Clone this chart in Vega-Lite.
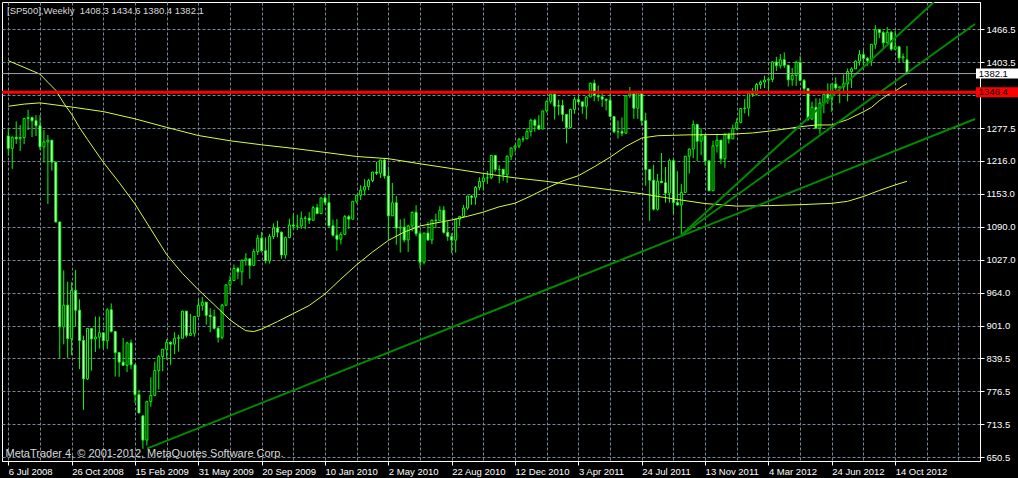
{
  "$schema": "https://vega.github.io/schema/vega-lite/v6.json",
  "width": 978,
  "height": 459,
  "autosize": "none",
  "padding": {"left": 2, "top": 2, "right": 38, "bottom": 17},
  "background": "#000000",
  "view": {"fill": "#000000", "stroke": "#ffffff", "strokeWidth": 1},
  "title": {"text": "[SP500],Weekly\u00a0 1408.3 1434.6 1380.4 1382.1", "anchor": "start", "frame": "group", "offset": -12, "dx": 5, "dy": 11, "color": "#d8d8d8", "font": "Liberation Sans", "fontSize": 9.5, "fontWeight": "normal", "baseline": "bottom"},
  "datasets": {
    "c": [
      {"d":"2008-06-29","o":1262.9,"h":1277.6,"l":1225.4,"c":1239.5},
      {"d":"2008-07-06","o":1239.5,"h":1262.3,"l":1200.4,"c":1260.7},
      {"d":"2008-07-13","o":1260.7,"h":1291,"l":1248,"c":1257.8},
      {"d":"2008-07-20","o":1257.8,"h":1284,"l":1234.4,"c":1260.3},
      {"d":"2008-07-27","o":1260.3,"h":1297.9,"l":1247.5,"c":1296.3},
      {"d":"2008-08-03","o":1296.3,"h":1313.2,"l":1274.5,"c":1298.2},
      {"d":"2008-08-10","o":1298.2,"h":1300.2,"l":1261,"c":1292.2},
      {"d":"2008-08-17","o":1292.2,"h":1303,"l":1263,"c":1282.8},
      {"d":"2008-08-24","o":1282.8,"h":1303,"l":1236.8,"c":1242.3},
      {"d":"2008-08-31","o":1242.3,"h":1274.4,"l":1212.6,"c":1251.7},
      {"d":"2008-09-07","o":1251.7,"h":1265.1,"l":1133.5,"c":1255.1},
      {"d":"2008-09-14","o":1255.1,"h":1255.1,"l":1197,"c":1213.3},
      {"d":"2008-09-21","o":1213.3,"h":1213.3,"l":1098.3,"c":1099.2},
      {"d":"2008-09-28","o":1099.2,"h":1099.2,"l":839.8,"c":899.2},
      {"d":"2008-10-05","o":899.2,"h":1006.9,"l":865.8,"c":940.6},
      {"d":"2008-10-12","o":940.6,"h":985.4,"l":840,"c":876.8},
      {"d":"2008-10-19","o":876.8,"h":984.4,"l":845.3,"c":968.8},
      {"d":"2008-10-26","o":968.8,"h":1007.5,"l":899.7,"c":931},
      {"d":"2008-11-02","o":931,"h":951.7,"l":818.7,"c":873.3},
      {"d":"2008-11-09","o":873.3,"h":882.3,"l":741,"c":800},
      {"d":"2008-11-16","o":800,"h":896.3,"l":798,"c":896.2},
      {"d":"2008-11-23","o":896.2,"h":896.2,"l":815.7,"c":876.1},
      {"d":"2008-11-30","o":876.1,"h":918.9,"l":851.3,"c":879.7},
      {"d":"2008-12-07","o":879.7,"h":918.9,"l":857.7,"c":887.9},
      {"d":"2008-12-14","o":887.9,"h":887.9,"l":857,"c":872.8},
      {"d":"2008-12-21","o":872.8,"h":934.7,"l":857,"c":931.8},
      {"d":"2008-12-28","o":931.8,"h":943.9,"l":888.3,"c":890.4},
      {"d":"2009-01-04","o":890.4,"h":890.4,"l":804.5,"c":850.1},
      {"d":"2009-01-11","o":850.1,"h":850.1,"l":804,"c":832},
      {"d":"2009-01-18","o":832,"h":877.9,"l":825,"c":825.9},
      {"d":"2009-01-25","o":825.9,"h":870.8,"l":812.9,"c":868.6},
      {"d":"2009-02-01","o":868.6,"h":875,"l":818.4,"c":826.8},
      {"d":"2009-02-08","o":826.8,"h":826.8,"l":754.3,"c":770},
      {"d":"2009-02-15","o":770,"h":779.4,"l":734.5,"c":735.1},
      {"d":"2009-02-22","o":729.6,"h":729.6,"l":666.8,"c":683.4},
      {"d":"2009-03-01","o":683.4,"h":758.3,"l":672.9,"c":756.6},
      {"d":"2009-03-08","o":756.6,"h":803,"l":747,"c":768.5},
      {"d":"2009-03-15","o":768.5,"h":832.9,"l":767,"c":815.9},
      {"d":"2009-03-22","o":815.9,"h":845.6,"l":779.8,"c":842.5},
      {"d":"2009-03-29","o":842.5,"h":856.6,"l":814.5,"c":856.6},
      {"d":"2009-04-05","o":856.6,"h":875.6,"l":836.9,"c":869.6},
      {"d":"2009-04-12","o":869.6,"h":871.8,"l":826.8,"c":866.2},
      {"d":"2009-04-19","o":866.2,"h":888.7,"l":847.1,"c":877.5},
      {"d":"2009-04-26","o":877.5,"h":884,"l":852,"c":878.5},
      {"d":"2009-05-03","o":877.5,"h":930.2,"l":877.5,"c":929.2},
      {"d":"2009-05-10","o":929.2,"h":929.2,"l":878.9,"c":882.9},
      {"d":"2009-05-17","o":882.9,"h":924,"l":882.9,"c":887},
      {"d":"2009-05-24","o":887,"h":919.1,"l":880.5,"c":919.1},
      {"d":"2009-05-31","o":919.1,"h":951.7,"l":919.1,"c":940.1},
      {"d":"2009-06-07","o":940.1,"h":956.2,"l":930,"c":946.2},
      {"d":"2009-06-14","o":946.2,"h":946.2,"l":903.4,"c":921.2},
      {"d":"2009-06-21","o":921.2,"h":935,"l":888.9,"c":918.9},
      {"d":"2009-06-28","o":918.9,"h":931.9,"l":894,"c":896.4},
      {"d":"2009-07-05","o":896.4,"h":898.7,"l":869.3,"c":879.1},
      {"d":"2009-07-12","o":879.1,"h":943,"l":875.3,"c":940.4},
      {"d":"2009-07-19","o":940.4,"h":979.4,"l":940.4,"c":979.3},
      {"d":"2009-07-26","o":979.3,"h":996.7,"l":963.7,"c":987.5},
      {"d":"2009-08-02","o":987.5,"h":1018,"l":987.5,"c":1010.5},
      {"d":"2009-08-09","o":1010.5,"h":1013.1,"l":990,"c":1004.1},
      {"d":"2009-08-16","o":1004.1,"h":1027.6,"l":978.5,"c":1026.1},
      {"d":"2009-08-23","o":1026.1,"h":1039.5,"l":1016,"c":1028.9},
      {"d":"2009-08-30","o":1028.9,"h":1028.9,"l":991,"c":1016.4},
      {"d":"2009-09-06","o":1016.4,"h":1048.2,"l":1016.4,"c":1042.7},
      {"d":"2009-09-13","o":1042.7,"h":1074.8,"l":1036,"c":1068.3},
      {"d":"2009-09-20","o":1068.3,"h":1080.2,"l":1041.2,"c":1044.4},
      {"d":"2009-09-27","o":1044.4,"h":1069.6,"l":1020.2,"c":1025.2},
      {"d":"2009-10-04","o":1025.2,"h":1076.3,"l":1019.9,"c":1071.5},
      {"d":"2009-10-11","o":1071.5,"h":1096.6,"l":1066.7,"c":1087.7},
      {"d":"2009-10-18","o":1087.7,"h":1101.4,"l":1070,"c":1079.6},
      {"d":"2009-10-25","o":1079.6,"h":1081,"l":1029,"c":1036.2},
      {"d":"2009-11-01","o":1036.2,"h":1071.5,"l":1029.4,"c":1069.3},
      {"d":"2009-11-08","o":1069.3,"h":1105.4,"l":1069.3,"c":1093.5},
      {"d":"2009-11-15","o":1093.5,"h":1113.7,"l":1085.4,"c":1091.4},
      {"d":"2009-11-22","o":1091.4,"h":1112.8,"l":1083.7,"c":1091.5},
      {"d":"2009-11-29","o":1091.5,"h":1119.1,"l":1086,"c":1106},
      {"d":"2009-12-06","o":1106,"h":1110.7,"l":1085.9,"c":1106.4},
      {"d":"2009-12-13","o":1106.4,"h":1117.7,"l":1095.4,"c":1102.5},
      {"d":"2009-12-20","o":1102.5,"h":1129.6,"l":1102.5,"c":1126.5},
      {"d":"2009-12-27","o":1126.5,"h":1133.5,"l":1114.8,"c":1115.1},
      {"d":"2010-01-03","o":1115.1,"h":1145.4,"l":1115.1,"c":1145},
      {"d":"2010-01-10","o":1145,"h":1150.4,"l":1131.4,"c":1136},
      {"d":"2010-01-17","o":1136,"h":1150.5,"l":1090.2,"c":1091.8},
      {"d":"2010-01-24","o":1091.8,"h":1103.7,"l":1071.6,"c":1073.9},
      {"d":"2010-01-31","o":1073.9,"h":1104.7,"l":1044.5,"c":1066.2},
      {"d":"2010-02-07","o":1066.2,"h":1080,"l":1056.5,"c":1075.5},
      {"d":"2010-02-14","o":1075.5,"h":1112.4,"l":1075.5,"c":1109.2},
      {"d":"2010-02-21","o":1109.2,"h":1112.4,"l":1086,"c":1104.5},
      {"d":"2010-02-28","o":1104.5,"h":1139,"l":1104.5,"c":1138.7},
      {"d":"2010-03-07","o":1138.7,"h":1150,"l":1134.7,"c":1150},
      {"d":"2010-03-14","o":1150,"h":1169.2,"l":1141,"c":1159.9},
      {"d":"2010-03-21","o":1159.9,"h":1180.7,"l":1150,"c":1166.6},
      {"d":"2010-03-28","o":1166.6,"h":1181.4,"l":1160,"c":1178.1},
      {"d":"2010-04-04","o":1178.1,"h":1194.7,"l":1175,"c":1194.4},
      {"d":"2010-04-11","o":1194.4,"h":1213.9,"l":1188.6,"c":1192.1},
      {"d":"2010-04-18","o":1192.1,"h":1217.5,"l":1183,"c":1217.3},
      {"d":"2010-04-25","o":1217.3,"h":1219.8,"l":1181.6,"c":1186.7},
      {"d":"2010-05-02","o":1186.7,"h":1205,"l":1065.8,"c":1110.9},
      {"d":"2010-05-09","o":1110.9,"h":1173.6,"l":1110.9,"c":1135.7},
      {"d":"2010-05-16","o":1135.7,"h":1148.7,"l":1055.9,"c":1087.7},
      {"d":"2010-05-23","o":1087.7,"h":1104,"l":1040.8,"c":1089.4},
      {"d":"2010-05-30","o":1089.4,"h":1105.7,"l":1060.5,"c":1064.9},
      {"d":"2010-06-06","o":1064.9,"h":1094,"l":1042.2,"c":1091.6},
      {"d":"2010-06-13","o":1091.6,"h":1119,"l":1081,"c":1117.5},
      {"d":"2010-06-20","o":1117.5,"h":1131.2,"l":1071.9,"c":1076.8},
      {"d":"2010-06-27","o":1076.8,"h":1082.6,"l":1010.9,"c":1022.6},
      {"d":"2010-07-04","o":1022.6,"h":1078.2,"l":1018.4,"c":1078},
      {"d":"2010-07-11","o":1078,"h":1099.1,"l":1063.3,"c":1064.9},
      {"d":"2010-07-18","o":1064.9,"h":1103.7,"l":1056.9,"c":1102.7},
      {"d":"2010-07-25","o":1102.7,"h":1115,"l":1087.3,"c":1101.6},
      {"d":"2010-08-01","o":1101.6,"h":1129.2,"l":1101.6,"c":1121.6},
      {"d":"2010-08-08","o":1121.6,"h":1129.2,"l":1076.6,"c":1079.3},
      {"d":"2010-08-15","o":1079.3,"h":1100.1,"l":1063.2,"c":1071.7},
      {"d":"2010-08-22","o":1071.7,"h":1077.6,"l":1039.7,"c":1064.6},
      {"d":"2010-08-29","o":1064.6,"h":1105.1,"l":1040.9,"c":1104.5},
      {"d":"2010-09-05","o":1104.5,"h":1110.9,"l":1091.2,"c":1109.6},
      {"d":"2010-09-12","o":1109.6,"h":1131.5,"l":1107,"c":1125.6},
      {"d":"2010-09-19","o":1125.6,"h":1148.9,"l":1122.3,"c":1148.7},
      {"d":"2010-09-26","o":1148.7,"h":1150.3,"l":1131.9,"c":1146.2},
      {"d":"2010-10-03","o":1146.2,"h":1167.7,"l":1131.9,"c":1165.2},
      {"d":"2010-10-10","o":1165.2,"h":1184.4,"l":1159.7,"c":1176.2},
      {"d":"2010-10-17","o":1176.2,"h":1189.4,"l":1159.7,"c":1183.1},
      {"d":"2010-10-24","o":1183.1,"h":1196.1,"l":1171.7,"c":1183.3},
      {"d":"2010-10-31","o":1183.3,"h":1227.1,"l":1180.7,"c":1225.9},
      {"d":"2010-11-07","o":1225.9,"h":1227.1,"l":1194.7,"c":1199.2},
      {"d":"2010-11-14","o":1199.2,"h":1207.4,"l":1173,"c":1199.7},
      {"d":"2010-11-21","o":1199.7,"h":1199.7,"l":1177.7,"c":1189.4},
      {"d":"2010-11-28","o":1189.4,"h":1225.6,"l":1173.6,"c":1224.7},
      {"d":"2010-12-05","o":1224.7,"h":1240.4,"l":1217,"c":1240.4},
      {"d":"2010-12-12","o":1240.4,"h":1246.7,"l":1232.9,"c":1243.9},
      {"d":"2010-12-19","o":1243.9,"h":1259.4,"l":1240,"c":1256.8},
      {"d":"2010-12-26","o":1256.8,"h":1262.6,"l":1251.5,"c":1257.6},
      {"d":"2011-01-02","o":1257.6,"h":1278,"l":1257.6,"c":1271.5},
      {"d":"2011-01-09","o":1271.5,"h":1296,"l":1262.2,"c":1293.2},
      {"d":"2011-01-16","o":1293.2,"h":1296.1,"l":1271.3,"c":1283.4},
      {"d":"2011-01-23","o":1283.4,"h":1302.7,"l":1275,"c":1276.3},
      {"d":"2011-01-30","o":1276.3,"h":1311,"l":1276.3,"c":1310.9},
      {"d":"2011-02-06","o":1310.9,"h":1330.8,"l":1307.6,"c":1329.2},
      {"d":"2011-02-13","o":1329.2,"h":1344.1,"l":1324.6,"c":1343},
      {"d":"2011-02-20","o":1343,"h":1343,"l":1294.3,"c":1319.9},
      {"d":"2011-02-27","o":1319.9,"h":1332.3,"l":1302.6,"c":1321.2},
      {"d":"2011-03-06","o":1321.2,"h":1332.3,"l":1291,"c":1304.3},
      {"d":"2011-03-13","o":1304.3,"h":1304.3,"l":1249,"c":1279.2},
      {"d":"2011-03-20","o":1279.2,"h":1315,"l":1279.2,"c":1313.8},
      {"d":"2011-03-27","o":1313.8,"h":1337.8,"l":1305.3,"c":1332.4},
      {"d":"2011-04-03","o":1332.4,"h":1339.5,"l":1322.9,"c":1328.2},
      {"d":"2011-04-10","o":1328.2,"h":1328.2,"l":1305.3,"c":1319.7},
      {"d":"2011-04-17","o":1319.7,"h":1339.5,"l":1294.7,"c":1337.4},
      {"d":"2011-04-24","o":1337.4,"h":1364.6,"l":1337.4,"c":1363.6},
      {"d":"2011-05-01","o":1363.6,"h":1370.6,"l":1329.2,"c":1340.2},
      {"d":"2011-05-08","o":1340.2,"h":1359.4,"l":1329.2,"c":1337.8},
      {"d":"2011-05-15","o":1337.8,"h":1346.8,"l":1318.5,"c":1333.3},
      {"d":"2011-05-22","o":1333.3,"h":1334,"l":1311.8,"c":1331.1},
      {"d":"2011-05-29","o":1331.1,"h":1345.2,"l":1300.2,"c":1300.2},
      {"d":"2011-06-05","o":1300.2,"h":1300.2,"l":1268.5,"c":1271},
      {"d":"2011-06-12","o":1271,"h":1292.5,"l":1258.1,"c":1271.5},
      {"d":"2011-06-19","o":1271.5,"h":1298.6,"l":1262.9,"c":1268.5},
      {"d":"2011-06-26","o":1268.5,"h":1341,"l":1267.2,"c":1339.7},
      {"d":"2011-07-03","o":1339.7,"h":1356.5,"l":1335.6,"c":1343.8},
      {"d":"2011-07-10","o":1343.8,"h":1343.8,"l":1295.9,"c":1316.1},
      {"d":"2011-07-17","o":1316.1,"h":1347,"l":1295.9,"c":1345},
      {"d":"2011-07-24","o":1345,"h":1345,"l":1282.9,"c":1292.3},
      {"d":"2011-07-31","o":1292.3,"h":1307.4,"l":1168.1,"c":1199.4},
      {"d":"2011-08-07","o":1199.4,"h":1199.4,"l":1101.5,"c":1178.8},
      {"d":"2011-08-14","o":1178.8,"h":1208.5,"l":1121.1,"c":1123.5},
      {"d":"2011-08-21","o":1123.5,"h":1190.7,"l":1121.1,"c":1176.8},
      {"d":"2011-08-28","o":1176.8,"h":1230.7,"l":1173.7,"c":1174},
      {"d":"2011-09-04","o":1174,"h":1204,"l":1136,"c":1154.2},
      {"d":"2011-09-11","o":1154.2,"h":1220.1,"l":1136.2,"c":1216},
      {"d":"2011-09-18","o":1216,"h":1220.4,"l":1114.2,"c":1136.4},
      {"d":"2011-09-25","o":1136.4,"h":1195.9,"l":1131.1,"c":1131.4},
      {"d":"2011-10-02","o":1131.4,"h":1171.4,"l":1074.8,"c":1155.5},
      {"d":"2011-10-09","o":1155.5,"h":1224.6,"l":1155.5,"c":1224.6},
      {"d":"2011-10-16","o":1224.6,"h":1239,"l":1191.5,"c":1238.3},
      {"d":"2011-10-23","o":1238.3,"h":1292.7,"l":1221,"c":1285.1},
      {"d":"2011-10-30","o":1285.1,"h":1285.1,"l":1215.4,"c":1253.2},
      {"d":"2011-11-06","o":1253.2,"h":1277.6,"l":1226.6,"c":1263.9},
      {"d":"2011-11-13","o":1263.9,"h":1264.3,"l":1206.7,"c":1215.7},
      {"d":"2011-11-20","o":1215.7,"h":1215.7,"l":1158.7,"c":1158.7},
      {"d":"2011-11-27","o":1158.7,"h":1254.1,"l":1158.7,"c":1244.3},
      {"d":"2011-12-04","o":1244.3,"h":1267.1,"l":1231.5,"c":1255.2},
      {"d":"2011-12-11","o":1255.2,"h":1255.2,"l":1209.5,"c":1219.7},
      {"d":"2011-12-18","o":1219.7,"h":1268.6,"l":1202.4,"c":1265.3},
      {"d":"2011-12-25","o":1265.3,"h":1269.4,"l":1248.6,"c":1257.6},
      {"d":"2012-01-01","o":1257.6,"h":1284.6,"l":1257.6,"c":1277.8},
      {"d":"2012-01-08","o":1277.8,"h":1296.8,"l":1274.5,"c":1289.1},
      {"d":"2012-01-15","o":1289.1,"h":1315.5,"l":1287,"c":1315.4},
      {"d":"2012-01-22","o":1315.4,"h":1333.5,"l":1306.1,"c":1316.3},
      {"d":"2012-01-29","o":1316.3,"h":1345.3,"l":1300.5,"c":1344.9},
      {"d":"2012-02-05","o":1344.9,"h":1354.3,"l":1337.5,"c":1342.6},
      {"d":"2012-02-12","o":1342.6,"h":1364.2,"l":1340.5,"c":1361.2},
      {"d":"2012-02-19","o":1361.2,"h":1368.9,"l":1352.8,"c":1365.7},
      {"d":"2012-02-26","o":1365.7,"h":1378,"l":1354.3,"c":1369.6},
      {"d":"2012-03-04","o":1369.6,"h":1374.8,"l":1340,"c":1370.9},
      {"d":"2012-03-11","o":1370.9,"h":1405.9,"l":1365.7,"c":1404.2},
      {"d":"2012-03-18","o":1404.2,"h":1414,"l":1386.9,"c":1397.1},
      {"d":"2012-03-25","o":1397.1,"h":1419.2,"l":1391.6,"c":1408.5},
      {"d":"2012-04-01","o":1408.5,"h":1422.4,"l":1392.9,"c":1398.1},
      {"d":"2012-04-08","o":1398.1,"h":1398.1,"l":1357.4,"c":1370.3},
      {"d":"2012-04-15","o":1370.3,"h":1392.8,"l":1358.8,"c":1378.5},
      {"d":"2012-04-22","o":1378.5,"h":1406.6,"l":1358.6,"c":1403.4},
      {"d":"2012-04-29","o":1403.4,"h":1415.3,"l":1367,"c":1369.1},
      {"d":"2012-05-06","o":1369.1,"h":1371.9,"l":1343.1,"c":1353.4},
      {"d":"2012-05-13","o":1353.4,"h":1354.6,"l":1291.9,"c":1295.2},
      {"d":"2012-05-20","o":1295.2,"h":1328.5,"l":1295,"c":1317.8},
      {"d":"2012-05-27","o":1317.8,"h":1334.9,"l":1277.8,"c":1278},
      {"d":"2012-06-03","o":1278,"h":1334.9,"l":1266.7,"c":1325.7},
      {"d":"2012-06-10","o":1325.7,"h":1343.3,"l":1306.6,"c":1342.8},
      {"d":"2012-06-17","o":1342.8,"h":1363.5,"l":1324.4,"c":1335},
      {"d":"2012-06-24","o":1335,"h":1362.2,"l":1309.3,"c":1362.2},
      {"d":"2012-07-01","o":1362.2,"h":1374.8,"l":1350.1,"c":1354.7},
      {"d":"2012-07-08","o":1354.7,"h":1356.8,"l":1325.4,"c":1356.8},
      {"d":"2012-07-15","o":1356.8,"h":1380.4,"l":1345.1,"c":1362.7},
      {"d":"2012-07-22","o":1362.7,"h":1391.7,"l":1329.2,"c":1386},
      {"d":"2012-07-29","o":1386,"h":1394.2,"l":1354.6,"c":1391},
      {"d":"2012-08-05","o":1391,"h":1407.1,"l":1391,"c":1405.9},
      {"d":"2012-08-12","o":1405.9,"h":1426.7,"l":1397.4,"c":1418.2},
      {"d":"2012-08-19","o":1418.2,"h":1426.7,"l":1398,"c":1411.1},
      {"d":"2012-08-26","o":1411.1,"h":1413.5,"l":1397,"c":1406.6},
      {"d":"2012-09-02","o":1406.6,"h":1437.9,"l":1396.6,"c":1437.9},
      {"d":"2012-09-09","o":1437.9,"h":1474.5,"l":1429.1,"c":1465.8},
      {"d":"2012-09-16","o":1465.8,"h":1467.1,"l":1449.6,"c":1460.2},
      {"d":"2012-09-23","o":1460.2,"h":1463.6,"l":1430.5,"c":1440.7},
      {"d":"2012-09-30","o":1440.7,"h":1470.9,"l":1439.1,"c":1460.9},
      {"d":"2012-10-07","o":1460.9,"h":1464,"l":1425.5,"c":1428.6},
      {"d":"2012-10-14","o":1428.6,"h":1464,"l":1426.9,"c":1433.2},
      {"d":"2012-10-21","o":1433.2,"h":1435,"l":1403.3,"c":1411.9},
      {"d":"2012-10-28","o":1411.9,"h":1420.3,"l":1403.9,"c":1414.2},
      {"d":"2012-11-04","o":1408.3,"h":1434.6,"l":1380.4,"c":1382.1}
    ],
    "ma": [
      {"d":"2008-06-29","fast":1406.7,"slow":1319.8},
      {"d":"2008-07-27","fast":1393.9,"slow":1323.9},
      {"d":"2008-08-24","fast":1381,"slow":1326.2},
      {"d":"2008-09-07","fast":1365.4,"slow":null},
      {"d":"2008-09-21","fast":1350.2,"slow":null},
      {"d":"2008-10-05","fast":1325.9,"slow":null},
      {"d":"2008-10-19","fast":1304.5,"slow":1318.3},
      {"d":"2008-11-02","fast":1279,"slow":null},
      {"d":"2008-11-16","fast":1256.5,"slow":null},
      {"d":"2008-12-14","fast":1212.9,"slow":1309.6},
      {"d":"2009-01-11","fast":1174.5,"slow":null},
      {"d":"2009-02-08","fast":1133.5,"slow":1295.8},
      {"d":"2009-03-08","fast":1085.3,"slow":null},
      {"d":"2009-04-05","fast":1037,"slow":1279.5},
      {"d":"2009-05-03","fast":1000.9,"slow":null},
      {"d":"2009-05-31","fast":970,"slow":1264},
      {"d":"2009-06-28","fast":941.6,"slow":null},
      {"d":"2009-07-26","fast":912.4,"slow":1254},
      {"d":"2009-08-09","fast":901.7,"slow":null},
      {"d":"2009-08-23","fast":891.9,"slow":null},
      {"d":"2009-09-06","fast":890.2,"slow":null},
      {"d":"2009-09-20","fast":895,"slow":1246.3},
      {"d":"2009-10-18","fast":909.3,"slow":null},
      {"d":"2009-11-15","fast":924.6,"slow":1239.5},
      {"d":"2009-12-13","fast":939.9,"slow":null},
      {"d":"2010-01-10","fast":961.9,"slow":1231.8},
      {"d":"2010-02-07","fast":990.4,"slow":null},
      {"d":"2010-03-07","fast":1017.6,"slow":1224},
      {"d":"2010-04-04","fast":1042,"slow":null},
      {"d":"2010-05-02","fast":1064,"slow":1219.8},
      {"d":"2010-05-30","fast":1080,"slow":null},
      {"d":"2010-06-27","fast":1091.6,"slow":1210.1},
      {"d":"2010-07-25","fast":1097.2,"slow":null},
      {"d":"2010-08-22","fast":1103,"slow":1201},
      {"d":"2010-09-19","fast":1110,"slow":null},
      {"d":"2010-10-17","fast":1118,"slow":1191.8},
      {"d":"2010-11-14","fast":1128.1,"slow":null},
      {"d":"2010-12-12","fast":1135,"slow":1183.3},
      {"d":"2011-01-09","fast":1148.7,"slow":null},
      {"d":"2011-02-06","fast":1163.9,"slow":1176.6},
      {"d":"2011-03-06","fast":1177.3,"slow":null},
      {"d":"2011-04-03","fast":1187.4,"slow":1168.4},
      {"d":"2011-05-01","fast":1204.3,"slow":null},
      {"d":"2011-05-29","fast":1222.6,"slow":1160.6},
      {"d":"2011-06-26","fast":1243.3,"slow":null},
      {"d":"2011-07-24","fast":1259.2,"slow":1153},
      {"d":"2011-08-21","fast":1263.6,"slow":null},
      {"d":"2011-09-18","fast":1264.5,"slow":1143.2},
      {"d":"2011-10-16","fast":1265.3,"slow":null},
      {"d":"2011-11-13","fast":1265.6,"slow":1134.3},
      {"d":"2011-12-11","fast":1266,"slow":null},
      {"d":"2012-01-08","fast":1267.1,"slow":1129.4},
      {"d":"2012-02-05","fast":1268.9,"slow":null},
      {"d":"2012-03-04","fast":1272.2,"slow":1130.3},
      {"d":"2012-04-01","fast":1276.2,"slow":null},
      {"d":"2012-04-29","fast":1280.7,"slow":1132.1},
      {"d":"2012-05-27","fast":1284,"slow":null},
      {"d":"2012-06-24","fast":1284.2,"slow":1134.7},
      {"d":"2012-07-22","fast":1294.4,"slow":1138.5},
      {"d":"2012-08-19","fast":1309.2,"slow":1147.7},
      {"d":"2012-09-02","fast":1317.5,"slow":null},
      {"d":"2012-09-16","fast":1330.4,"slow":1159.2},
      {"d":"2012-09-30","fast":1341.1,"slow":null},
      {"d":"2012-10-14","fast":1348.6,"slow":1169.8},
      {"d":"2012-10-28","fast":1358.6,"slow":null},
      {"d":"2012-11-04","fast":1363,"slow":1176.7}
    ],
    "tl": [
      {"d1":"2009-03-01","p1":667,"d2":"2013-03-04T05:00:00Z","p2":1295.5},
      {"d1":"2011-10-02","p1":1074.3,"d2":"2012-12-21T14:00:00Z","p2":1518.5},
      {"d1":"2011-10-02","p1":1074.3,"d2":"2013-03-04T05:00:00Z","p2":1476.6}
    ]
  },
  "resolve": {"axis": {"x": "independent", "y": "independent"}},
  "layer": [
    {
      "data": {"name": "c"},
      "mark": {"type": "rule", "color": "#00ff00", "strokeWidth": 1},
      "encoding": {
        "x": {"field": "d", "type": "temporal",
          "scale": {"type": "utc", "domain": [{"year":2008,"month":6,"date":26,"hours":17,"utc":true},{"year":2013,"month":3,"date":4,"hours":5,"utc":true}]},
          "axis": {"orient": "bottom", "values": [
            {"year":2008,"month":6,"date":29,"utc":true},{"year":2008,"month":8,"date":24,"utc":true},{"year":2008,"month":10,"date":19,"utc":true},{"year":2008,"month":12,"date":14,"utc":true},
            {"year":2009,"month":2,"date":8,"utc":true},{"year":2009,"month":4,"date":5,"utc":true},{"year":2009,"month":5,"date":31,"utc":true},{"year":2009,"month":7,"date":26,"utc":true},
            {"year":2009,"month":9,"date":20,"utc":true},{"year":2009,"month":11,"date":15,"utc":true},{"year":2010,"month":1,"date":10,"utc":true},{"year":2010,"month":3,"date":7,"utc":true},
            {"year":2010,"month":5,"date":2,"utc":true},{"year":2010,"month":6,"date":27,"utc":true},{"year":2010,"month":8,"date":22,"utc":true},{"year":2010,"month":10,"date":17,"utc":true},
            {"year":2010,"month":12,"date":12,"utc":true},{"year":2011,"month":2,"date":6,"utc":true},{"year":2011,"month":4,"date":3,"utc":true},{"year":2011,"month":5,"date":29,"utc":true},
            {"year":2011,"month":7,"date":24,"utc":true},{"year":2011,"month":9,"date":18,"utc":true},{"year":2011,"month":11,"date":13,"utc":true},{"year":2012,"month":1,"date":8,"utc":true},
            {"year":2012,"month":3,"date":4,"utc":true},{"year":2012,"month":4,"date":29,"utc":true},{"year":2012,"month":6,"date":24,"utc":true},{"year":2012,"month":8,"date":19,"utc":true},
            {"year":2012,"month":10,"date":14,"utc":true},{"year":2012,"month":12,"date":9,"utc":true},{"year":2013,"month":2,"date":3,"utc":true}],
            "grid": true, "gridColor": "#778899", "gridDash": [3, 2], "gridWidth": 1, "gridOpacity": 1,
            "labels": false, "ticks": false, "domain": false, "title": null}},
        "y": {"field": "l", "type": "quantitative",
          "scale": {"domain": [643.45, 1518.55], "nice": false, "zero": false},
          "axis": {"orient": "right", "values": [650.5, 713.5, 776.5, 839.5, 901.0, 964.0, 1027.0, 1090.0, 1153.0, 1216.0, 1277.5, 1340.5, 1403.5, 1466.5],
            "labelExpr": "datum.value == 1340.5 ? '' : format(datum.value, '.1f')",
            "grid": true, "gridColor": "#778899", "gridDash": [3, 2], "gridWidth": 1, "gridOpacity": 1,
            "domainColor": "#ffffff", "tickColor": "#ffffff", "tickSize": 4, "labelColor": "#ffffff", "labelPadding": 2,
            "labelFont": "Liberation Sans", "labelFontSize": 9.5, "labelAlign": "left", "labelBaseline": "middle", "title": null}},
        "y2": {"field": "h"}
      }
    },
    {
      "data": {"name": "c"},
      "mark": {"type": "bar", "orient": "vertical", "size": 2, "stroke": "#00ff00", "strokeWidth": 1},
      "encoding": {
        "x": {"field": "d", "type": "temporal",
          "axis": {"orient": "bottom", "values": [
            {"year":2008,"month":6,"date":29,"utc":true},{"year":2008,"month":10,"date":19,"utc":true},{"year":2009,"month":2,"date":8,"utc":true},{"year":2009,"month":5,"date":31,"utc":true},
            {"year":2009,"month":9,"date":20,"utc":true},{"year":2010,"month":1,"date":10,"utc":true},{"year":2010,"month":5,"date":2,"utc":true},{"year":2010,"month":8,"date":22,"utc":true},
            {"year":2010,"month":12,"date":12,"utc":true},{"year":2011,"month":4,"date":3,"utc":true},{"year":2011,"month":7,"date":24,"utc":true},{"year":2011,"month":11,"date":13,"utc":true},
            {"year":2012,"month":3,"date":4,"utc":true},{"year":2012,"month":6,"date":24,"utc":true},{"year":2012,"month":10,"date":14,"utc":true}],
            "labelExpr": "utcFormat(datum.value < 1241136000000 ? datum.value + 604800000 : datum.value, '%-d %b %Y')",
            "grid": false, "labelAlign": "left", "labelBaseline": "top", "labelPadding": 1, "labelOverlap": false, "labelFlush": false, "labelBound": false,
            "tickSize": 4, "tickColor": "#ffffff", "domainColor": "#ffffff", "labelColor": "#ffffff",
            "labelFont": "Liberation Sans", "labelFontSize": 9.5,
            "title": "MetaTrader 4, © 2001-2012, MetaQuotes Software Corp.", "titleX": 3, "titleY": -3, "titleAlign": "left", "titleAnchor": "start",
            "titleBaseline": "bottom", "titleColor": "#d8d8d8", "titleFont": "Liberation Sans", "titleFontSize": 11, "titleFontWeight": "normal"}},
        "y": {"field": "o", "type": "quantitative", "axis": null},
        "y2": {"field": "c"},
        "fill": {"condition": {"test": "datum.c >= datum.o", "value": "#000000"}, "value": "#ffffff"}
      }
    },
    {
      "data": {"name": "ma"},
      "mark": {"type": "line", "color": "#d2ff3c", "strokeWidth": 1},
      "encoding": {"x": {"field": "d", "type": "temporal", "axis": null}, "y": {"field": "fast", "type": "quantitative", "axis": null}}
    },
    {
      "data": {"name": "ma"},
      "transform": [{"filter": "datum.slow != null"}],
      "mark": {"type": "line", "color": "#d2ff3c", "strokeWidth": 1},
      "encoding": {"x": {"field": "d", "type": "temporal", "axis": null}, "y": {"field": "slow", "type": "quantitative", "axis": null}}
    },
    {
      "data": {"name": "tl"},
      "mark": {"type": "rule", "color": "#008a00", "strokeWidth": 2, "clip": true},
      "encoding": {
        "x": {"field": "d1", "type": "temporal", "axis": null}, "x2": {"field": "d2"},
        "y": {"field": "p1", "type": "quantitative", "axis": null}, "y2": {"field": "p2"}
      }
    },
    {
      "data": {"values": [{}]},
      "mark": {"type": "rule", "color": "#a0a0a8", "strokeWidth": 1},
      "encoding": {"y": {"datum": 1382.1, "type": "quantitative", "axis": null}}
    },
    {
      "data": {"values": [{}]},
      "mark": {"type": "rule", "color": "#ff0000", "strokeWidth": 3},
      "encoding": {"y": {"datum": 1346.4, "type": "quantitative", "axis": null}}
    },
    {
      "data": {"values": [{}]},
      "mark": {"type": "rect", "fill": "#ffffff", "clip": false},
      "encoding": {
        "x": {"datum": {"year":2013,"month":3,"date":5,"hours":23,"utc":true}, "type": "temporal", "axis": null},
        "x2": {"datum": {"year":2013,"month":5,"date":20,"utc":true}},
        "y": {"datum": 1372.6, "type": "quantitative", "axis": null},
        "y2": {"datum": 1391.6}
      }
    },
    {
      "data": {"values": [{}]},
      "mark": {"type": "rect", "fill": "#ff0000", "clip": false},
      "encoding": {
        "x": {"datum": {"year":2013,"month":3,"date":5,"hours":23,"utc":true}, "type": "temporal", "axis": null},
        "x2": {"datum": {"year":2013,"month":5,"date":20,"utc":true}},
        "y": {"datum": 1336.9, "type": "quantitative", "axis": null},
        "y2": {"datum": 1355.9}
      }
    },
    {
      "data": {"values": [{"p": 1382.1, "t": "1382.1"}, {"p": 1346.4, "t": "1346.4"}]},
      "mark": {"type": "text", "align": "left", "baseline": "middle", "color": "#000000", "font": "Liberation Sans", "fontSize": 9.5, "clip": false},
      "encoding": {
        "x": {"datum": {"year":2013,"month":3,"date":11,"utc":true}, "type": "temporal", "axis": null},
        "y": {"field": "p", "type": "quantitative", "axis": null},
        "text": {"field": "t"}
      }
    }
  ]
}
